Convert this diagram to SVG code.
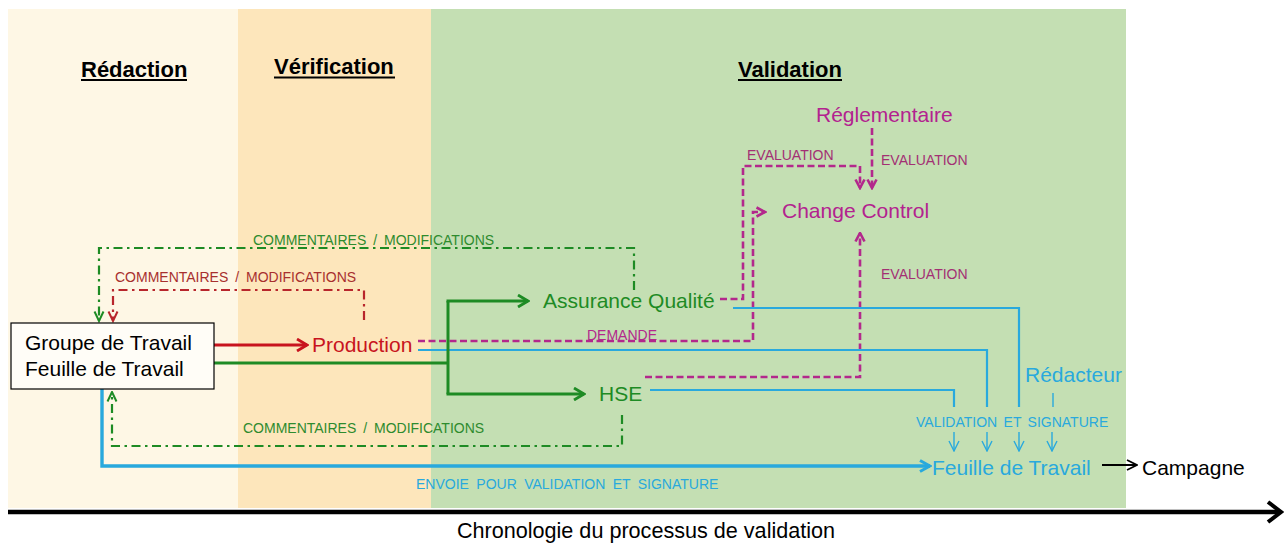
<svg xmlns="http://www.w3.org/2000/svg" width="1284" height="544" viewBox="0 0 1284 544">
  <style>
    text { font-family: "Liberation Sans", Arial, sans-serif; }
    .hdr { font-size: 22px; font-weight: bold; fill: #000; }
    .big { font-size: 21px; }
    .lbl { font-size: 14px; }
    .ul { stroke: #000; stroke-width: 2.2; }
    .mag { fill: none; stroke: #B3288C; stroke-width: 2.6; stroke-dasharray: 7 3.5; }
    .dd { fill: none; stroke-width: 2.2; stroke-dasharray: 9 4.5 2.5 4.5; }
    .blue { fill: none; stroke: #29A9DD; stroke-width: 2.2; }
    .bluethin { fill: none; stroke: #29A9DD; stroke-width: 1.4; }
  </style>
  <defs>
    <marker id="aRed" viewBox="0 0 14 14" refX="12" refY="7" markerWidth="14" markerHeight="14" orient="auto" markerUnits="userSpaceOnUse">
      <path d="M2,1 L12,7 L2,13" fill="none" stroke="#C8141E" stroke-width="2.8"/>
    </marker>
    <marker id="aGreen" viewBox="0 0 14 14" refX="12" refY="7" markerWidth="14" markerHeight="14" orient="auto" markerUnits="userSpaceOnUse">
      <path d="M2,1 L12,7 L2,13" fill="none" stroke="#1E8B24" stroke-width="2.8"/>
    </marker>
    <marker id="aMag" viewBox="0 0 12 12" refX="10.5" refY="6" markerWidth="12" markerHeight="12" orient="auto" markerUnits="userSpaceOnUse">
      <path d="M2,1.5 L10.5,6 L2,10.5" fill="none" stroke="#B3288C" stroke-width="2.6"/>
    </marker>
    <marker id="aDdGreen" viewBox="0 0 12 12" refX="10.5" refY="6" markerWidth="12" markerHeight="12" orient="auto" markerUnits="userSpaceOnUse">
      <path d="M1,1.5 L10.5,6 L1,10.5" fill="none" stroke="#1E8B24" stroke-width="2"/>
    </marker>
    <marker id="aDdRed" viewBox="0 0 12 12" refX="10.5" refY="6" markerWidth="12" markerHeight="12" orient="auto" markerUnits="userSpaceOnUse">
      <path d="M1,1.5 L10.5,6 L1,10.5" fill="none" stroke="#B8262C" stroke-width="2"/>
    </marker>
    <marker id="aBlue" viewBox="0 0 14 14" refX="12" refY="7" markerWidth="14" markerHeight="14" orient="auto" markerUnits="userSpaceOnUse">
      <path d="M2,1.5 L12,7 L2,12.5" fill="none" stroke="#29A9DD" stroke-width="3"/>
    </marker>
    <marker id="aBlueSm" viewBox="0 0 12 12" refX="11" refY="6" markerWidth="12" markerHeight="12" orient="auto" markerUnits="userSpaceOnUse">
      <path d="M1,1 L11,6 L1,11" fill="none" stroke="#29A9DD" stroke-width="1.4"/>
    </marker>
    <marker id="aBlack" viewBox="0 0 12 12" refX="11" refY="6" markerWidth="12" markerHeight="12" orient="auto" markerUnits="userSpaceOnUse">
      <path d="M1,1 L11,6 L1,11" fill="none" stroke="#000" stroke-width="1.8"/>
    </marker>
  </defs>

  <!-- phase columns -->
  <g id="phases">
    <rect x="8" y="9" width="230" height="499" fill="#FEF7E5"/>
    <rect x="238" y="9" width="193" height="499" fill="#FDE6BB"/>
    <rect x="431" y="9" width="695" height="499" fill="#C4DFB3"/>
    <text class="hdr" x="81" y="77">Rédaction</text>
    <line class="ul" x1="81" y1="80" x2="187" y2="80"/>
    <text class="hdr" x="274" y="74">Vérification</text>
    <line class="ul" x1="274" y1="77.5" x2="395" y2="77.5"/>
    <text class="hdr" x="738" y="77">Validation</text>
    <line class="ul" x1="738" y1="80" x2="842" y2="80"/>
  </g>

  <!-- connectors -->
  <g id="connectors">
    <!-- feedback loops (dash-dot) -->
    <path class="dd" stroke="#1E8B24" d="M634,290 V248 H99 V321" marker-end="url(#aDdGreen)"/>
    <path class="dd" stroke="#B8262C" d="M364,320 V290 H113 V321" marker-end="url(#aDdRed)"/>
    <path class="dd" stroke="#1E8B24" d="M622,415 V446 H112 V392" marker-end="url(#aDdGreen)"/>

    <!-- evaluation requests to Change Control -->
    <path class="mag" d="M872,128 V188" marker-end="url(#aMag)"/>
    <path class="mag" d="M720,299 H743 V166 H860 V188" marker-end="url(#aMag)"/>
    <path class="mag" d="M418,341 H753 V212 H765" marker-end="url(#aMag)"/>
    <path class="mag" d="M645,377 H860 V233" marker-end="url(#aMag)"/>

    <!-- validation and signature routes -->
    <path class="blue" d="M733,308 H1019 V407"/>
    <path class="blue" d="M418,350 H987 V407"/>
    <path class="blue" d="M650,390 H954 V407"/>
    <path class="bluethin" d="M1053,393 V407"/>
    <path class="bluethin" d="M954,432 V451" marker-end="url(#aBlueSm)"/>
    <path class="bluethin" d="M987,432 V451" marker-end="url(#aBlueSm)"/>
    <path class="bluethin" d="M1019,432 V451" marker-end="url(#aBlueSm)"/>
    <path class="bluethin" d="M1052,432 V451" marker-end="url(#aBlueSm)"/>
    <path fill="none" stroke="#29A9DD" stroke-width="3.4" d="M102,389 V466 H930" marker-end="url(#aBlue)"/>

    <!-- working group outputs -->
    <path fill="none" stroke="#C8141E" stroke-width="3" d="M208,345 H307" marker-end="url(#aRed)"/>
    <path fill="none" stroke="#1E8B24" stroke-width="3" d="M208,363 H448"/>
    <path fill="none" stroke="#1E8B24" stroke-width="3" d="M448,301 V394"/>
    <path fill="none" stroke="#1E8B24" stroke-width="3" d="M446.5,301 H528" marker-end="url(#aGreen)"/>
    <path fill="none" stroke="#1E8B24" stroke-width="3" d="M446.5,394 H584" marker-end="url(#aGreen)"/>

    <!-- to campaign -->
    <path fill="none" stroke="#000" stroke-width="1.8" d="M1102,465 H1137" marker-end="url(#aBlack)"/>

    <!-- labels -->
    <text class="lbl" x="253" y="245" fill="#2E8B2E" font-size="13.8" word-spacing="3">COMMENTAIRES / MODIFICATIONS</text>
    <text class="lbl" x="115" y="282" fill="#A8302E" font-size="13.8" word-spacing="3">COMMENTAIRES / MODIFICATIONS</text>
    <text class="lbl" x="243" y="433" fill="#2E8B2E" font-size="13.8" word-spacing="3">COMMENTAIRES / MODIFICATIONS</text>
    <text class="lbl" x="747" y="160" fill="#A33073">EVALUATION</text>
    <text class="lbl" x="881" y="165" fill="#A33073">EVALUATION</text>
    <text class="lbl" x="881" y="279" fill="#A33073">EVALUATION</text>
    <text class="lbl" x="587" y="340" fill="#B3288C">DEMANDE</text>
    <text class="lbl" x="916" y="427" fill="#29A9DD" word-spacing="2.5">VALIDATION ET SIGNATURE</text>
    <text class="lbl" x="416" y="489" fill="#29A9DD" font-size="14.4" word-spacing="3.5">ENVOIE POUR VALIDATION ET SIGNATURE</text>
  </g>

  <!-- nodes -->
  <g id="groupe-travail">
    <rect x="11" y="323" width="203" height="66" fill="#FFFDF7" stroke="#000" stroke-width="1.2"/>
    <text class="big" x="25" y="350" fill="#000">Groupe de Travail</text>
    <text class="big" x="25" y="376" fill="#000">Feuille de Travail</text>
  </g>
  <g id="production">
    <text class="big" x="312" y="352" fill="#C8141E">Production</text>
  </g>
  <g id="assurance-qualite">
    <text class="big" x="543" y="308" fill="#1E8B24">Assurance Qualité</text>
  </g>
  <g id="hse">
    <text class="big" x="599" y="401" fill="#1E8B24">HSE</text>
  </g>
  <g id="reglementaire">
    <text class="big" x="816" y="122" fill="#B3228F">Réglementaire</text>
  </g>
  <g id="change-control">
    <text class="big" x="782" y="218" fill="#B3228F">Change Control</text>
  </g>
  <g id="redacteur">
    <text class="big" x="1025" y="382" fill="#29A9DD">Rédacteur</text>
  </g>
  <g id="feuille-travail">
    <text class="big" x="932" y="475" fill="#29A9DD">Feuille de Travail</text>
  </g>
  <g id="campagne">
    <text class="big" x="1142" y="475" fill="#000">Campagne</text>
  </g>

  <!-- timeline axis -->
  <g id="timeline">
    <line x1="8" y1="512" x2="1279" y2="512" stroke="#000" stroke-width="4.5"/>
    <path d="M1268,502 L1281,512 L1268,522" fill="none" stroke="#000" stroke-width="4"/>
    <text x="646" y="538" font-size="21.6" text-anchor="middle" fill="#000">Chronologie du processus de validation</text>
  </g>
</svg>
